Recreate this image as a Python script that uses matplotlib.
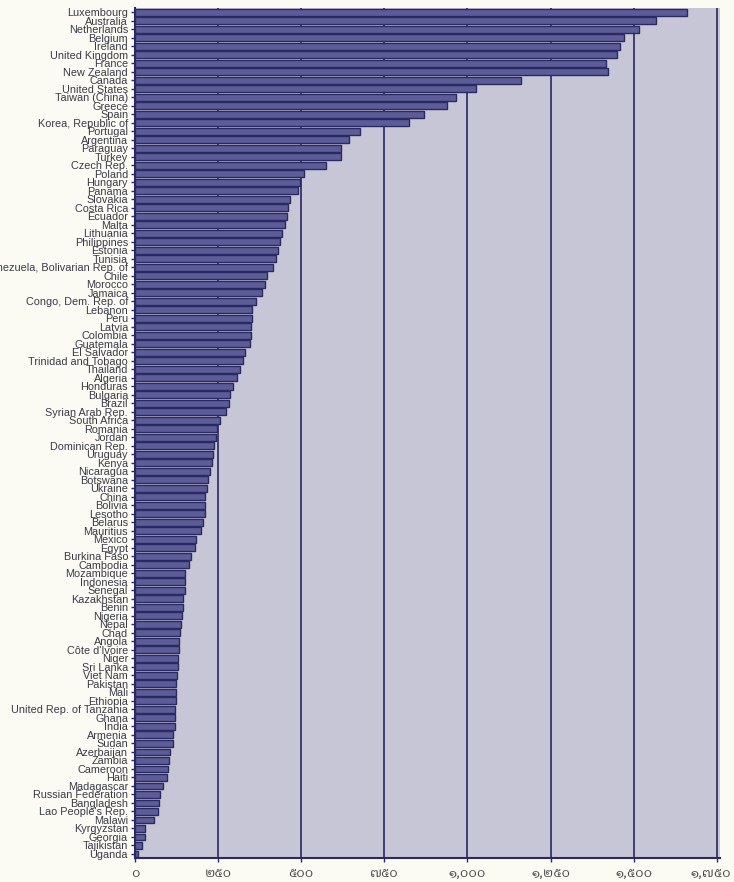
import matplotlib
matplotlib.use("Agg")
import matplotlib.pyplot as plt
import numpy as np

countries = [
    "Luxembourg", "Australia", "Netherlands", "Belgium", "Ireland", "United Kingdom",
    "France", "New Zealand", "Canada", "United States", "Taiwan (China)", "Greece",
    "Spain", "Korea, Republic of", "Portugal", "Argentina", "Paraguay", "Turkey",
    "Czech Rep.", "Poland", "Hungary", "Panama", "Slovakia", "Costa Rica", "Ecuador",
    "Malta", "Lithuania", "Philippines", "Estonia", "Tunisia",
    "Venezuela, Bolivarian Rep. of", "Chile", "Morocco", "Jamaica",
    "Congo, Dem. Rep. of", "Lebanon", "Peru", "Latvia", "Colombia", "Guatemala",
    "El Salvador", "Trinidad and Tobago", "Thailand", "Algeria", "Honduras",
    "Bulgaria", "Brazil", "Syrian Arab Rep.", "South Africa", "Romania", "Jordan",
    "Dominican Rep.", "Uruguay", "Kenya", "Nicaragua", "Botswana", "Ukraine", "China",
    "Bolivia", "Lesotho", "Belarus", "Mauritius", "Mexico", "Egypt", "Burkina Faso",
    "Cambodia", "Mozambique", "Indonesia", "Senegal", "Kazakhstan", "Benin",
    "Nigeria", "Nepal", "Chad", "Angola", "Côte d'Ivoire", "Niger", "Sri Lanka",
    "Viet Nam", "Pakistan", "Mali", "Ethiopia", "United Rep. of Tanzania", "Ghana",
    "India", "Armenia", "Sudan", "Azerbaijan", "Zambia", "Cameroon", "Haiti",
    "Madagascar", "Russian Federation", "Bangladesh", "Lao People's Rep.", "Malawi",
    "Kyrgyzstan", "Georgia", "Tajikistan", "Uganda",
]

values = [
    1660, 1566, 1516, 1471, 1459, 1450, 1417, 1423, 1161, 1026, 966, 939,
    870, 825, 678, 645, 621, 621, 573, 507, 495, 489, 465, 459, 456,
    450, 441, 435, 429, 423, 414, 396, 390, 381, 363, 351, 351, 348, 348, 345,
    330, 324, 315, 306, 294, 285, 282, 273, 255, 246, 243, 237, 234, 231, 225,
    219, 216, 210, 210, 210, 204, 198, 183, 180, 168, 162, 150, 150, 150, 144,
    144, 141, 138, 135, 132, 132, 129, 129, 126, 123, 123, 123, 120, 120, 120,
    114, 114, 105, 102, 99, 96, 84, 75, 72, 69, 57, 30, 30, 21, 9,
]

xtick_values = [0, 250, 500, 750, 1000, 1250, 1500, 1750]
xtick_labels = ["๐", "๒๕๐", "๕๐๐", "๗๕๐", "๑,๐๐๐", "๑,๒๕๐", "๑,๕๐๐", "๑,๗๕๐"]

fig = plt.figure(figsize=(7.34, 8.82), dpi=100, facecolor="#fbfbf3")
ax = fig.add_axes([0.184, 0.027, 0.797, 0.964])
ax.set_facecolor("#c6c6d6")

y = np.arange(len(countries))
ax.barh(y, values, height=0.8, color="#5c5c98", edgecolor="#2a2a62", linewidth=1.0, zorder=3)

ax.set_ylim(len(countries) - 0.5, -0.5)
ax.set_xlim(0, 1760)
ax.set_yticks(y)
ax.set_yticklabels(countries, fontsize=7.8, family=["Liberation Sans", "DejaVu Sans"], color="#3a3a48")
ax.tick_params(axis="y", length=3, width=1.0, color="#2a2a62", pad=2)

ax.set_xticks(xtick_values)
ax.set_xticklabels(xtick_labels, fontsize=9.5,
                   family=["IBM Plex Sans Thai Looped", "IBM Plex Sans Thai", "DejaVu Sans"],
                   color="#444444")
ax.tick_params(axis="x", length=3, width=1.0, color="#2a2a62", pad=3)
last = ax.get_xticklabels()[-1]
last.set_horizontalalignment("right")
last.set_x(1750)

for v in xtick_values[1:]:
    ax.axvline(v, color="#33336a", linewidth=1.3, zorder=2)

for side in ["left", "bottom"]:
    ax.spines[side].set_color("#2a2a62")
    ax.spines[side].set_linewidth(1.5)
for side in ["top", "right"]:
    ax.spines[side].set_visible(False)

fig.canvas.draw()
lbl = ax.get_xticklabels()[-1]
lbl.set_horizontalalignment("center")
from matplotlib.transforms import ScaledTranslation
lbl.set_transform(lbl.get_transform() + ScaledTranslation(-6 / 100, 0, fig.dpi_scale_trans))

fig.savefig("out.png", dpi=100, facecolor=fig.get_facecolor())
